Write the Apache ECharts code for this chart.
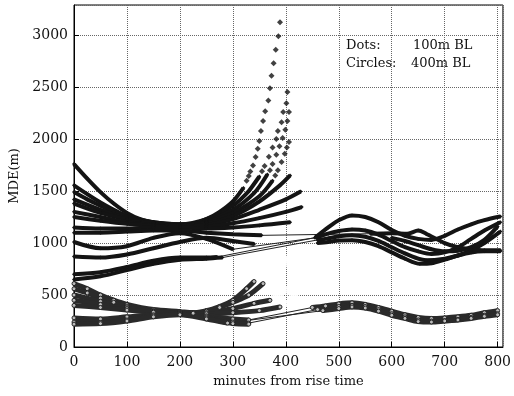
<!DOCTYPE html>
<html>
<head>
<meta charset="utf-8">
<script src="https://cdn.jsdelivr.net/npm/echarts@6/dist/echarts.min.js"></script>
<style>
  html, body { margin: 0; padding: 0; background: #fff; }
  #chart { width: 514px; height: 396px; }
</style>
</head>
<body>
<div id="chart"></div>
<script>
  // 100m BL (dots) - first period
  const dotsA = [[0,1760],[25,1620],[50,1490],[75,1380],[100,1290],[125,1230],[150,1195],[175,1175],[200,1170],[225,1185],[250,1230],[275,1300],[300,1400],[320,1530]]
  const dotsB = [[0,1555],[25,1470],[50,1390],[75,1320],[100,1260],[150,1200],[200,1180],[250,1230],[300,1360],[330,1500],[350,1640]]
  const dotsC = [[0,1490],[25,1420],[50,1360],[75,1300],[100,1250],[150,1195],[200,1175],[250,1210],[300,1320],[340,1480],[365,1660]]
  const dotsD = [[0,1420],[50,1320],[100,1240],[150,1200],[200,1180],[250,1200],[300,1290],[350,1450],[375,1600]]
  const dotsE = [[0,1380],[50,1290],[100,1230],[150,1190],[200,1170],[250,1190],[300,1260],[350,1400],[390,1560],[408,1650]]
  const dotsF = [[0,1300],[50,1250],[100,1200],[150,1175],[200,1165],[250,1175],[300,1230],[350,1320],[400,1420],[428,1495]]
  const dotsG = [[0,1250],[50,1215],[100,1185],[150,1165],[200,1160],[250,1160],[300,1190],[350,1240],[400,1300],[430,1346]]
  const dotsH = [[0,1150],[50,1140],[100,1140],[150,1150],[200,1150],[250,1140],[300,1150],[350,1170],[408,1200]]
  const dotsI = [[0,1100],[50,1100],[100,1110],[150,1120],[200,1120],[250,1100],[300,1085],[354,1074]]
  const dotsJ = [[0,1010],[50,950],[100,970],[150,1050],[200,1095],[250,1040],[300,940]]
  const dotsK = [[0,870],[50,860],[100,890],[150,950],[200,1010],[250,1050],[300,1020],[340,990]]
  const dotsL = [[0,700],[50,720],[100,770],[150,830],[200,860],[250,860],[270,865]]
  const dotsM = [[0,650],[50,680],[100,740],[150,800],[200,840],[250,850],[280,860]]

  // steep ends, read dot by dot
  const tailA = [[326,1600],[330,1645],[333,1689],[338,1747],[343,1827],[347,1907],[350,1981],[353,2077],[357,2173],[361,2269],[367,2372],[370,2490],[373,2609],[377,2730],[381,2860],[386,2990],[389,3125]]
  const tailB = [[355,1690],[360,1740],[368,1830],[375,1920],[382,2000],[385,2077],[392,2163],[395,2260],[401,2346],[403,2452]]
  const tailC = [[370,1700],[375,1760],[382,1850],[388,1930],[394,2010],[399,2090],[403,2173],[406,2260]]
  const tailD = [[380,1650],[385,1700],[392,1780],[398,1860],[402,1920],[406,1971]]

  // 100m BL (dots) - second period
  const dotsR1 = [[455,1050],[480,1150],[500,1220],[525,1265],[550,1250],[575,1200],[600,1125],[625,1070],[650,1040],[675,1030],[700,1070],[725,1130],[750,1180],[775,1220],[805,1255]]
  const dotsR2 = [[458,1055],[480,1090],[500,1115],[525,1130],[550,1120],[575,1080],[600,1020],[625,960],[650,920],[675,895],[700,910],[725,960],[750,1040],[775,1120],[805,1200]]
  const dotsR3 = [[460,1030],[480,1045],[500,1065],[525,1075],[550,1060],[575,1020],[600,960],[625,900],[650,850],[665,835],[700,850],[725,880],[750,930],[775,1000],[805,1110]]
  const dotsR4 = [[460,1000],[480,1010],[500,1025],[525,1028],[550,1010],[575,970],[600,910],[625,850],[653,800],[675,805],[700,840],[725,880],[750,910],[775,920],[805,920]]
  const dotsR5 = [[560,1090],[600,1095],[630,1090],[650,1120],[665,1090],[700,1000],[725,960],[750,940],[775,930],[805,930]]
  const dotsR6 = [[600,1050],[625,1020],[650,980],[675,940],[700,920],[725,925],[750,960],[775,1030],[800,1160]]

  // 400m BL (circles)
  const circA = [[0,610],[25,560],[50,500],[75,450],[100,410],[150,360],[200,340],[225,330],[250,350],[275,390],[300,450],[326,561],[340,630]]
  const circB = [[0,560],[25,520],[50,470],[75,430],[100,395],[150,350],[200,335],[225,325],[250,345],[275,380],[300,430],[330,500],[357,610]]
  const circC = [[0,500],[50,440],[100,385],[150,345],[200,330],[250,330],[300,370],[340,420],[370,449]]
  const circD = [[0,450],[50,410],[100,370],[150,340],[200,325],[250,320],[300,330],[350,350],[389,385]]
  const circE = [[0,400],[50,380],[100,355],[150,335],[200,320],[250,300],[300,270],[330,260]]
  const circF = [[0,280],[50,270],[100,290],[150,310],[200,320],[250,290],[300,240],[330,230]]
  const circG = [[0,240],[50,235],[100,260],[150,300],[200,315],[250,280],[300,225],[330,220]]
  const circH = [[0,220],[50,225],[100,250],[150,290],[200,310],[250,270],[290,230]]
  const circTailA = [[350,670],[357,706],[365,760],[371,800],[376,834],[382,870],[389,913]]
  const circTailB = [[365,640],[372,670],[380,700],[389,737],[395,780],[400,815],[404,850]]
  const circTailC = [[380,480],[390,510],[400,545],[408,577],[415,610],[421,640],[426,673]]
  const circTailD = [[400,420],[410,470],[418,510],[425,545],[430,575],[433,593]]
  const circR1 = [[450,380],[475,395],[500,415],[525,425],[550,410],[575,380],[600,345],[625,310],[650,285],[675,275],[700,280],[725,290],[750,305],[775,330],[800,350]]
  const circR2 = [[460,360],[500,390],[525,400],[550,390],[575,360],[600,320],[625,290],[650,260],[675,250],[700,255],[725,265],[750,285],[775,305],[800,320]]
  const circR3 = [[470,350],[500,370],[525,385],[550,375],[575,345],[600,305],[625,275],[650,245],[675,240],[700,250],[725,260],[750,275],[775,295],[800,310]]

  // thin joining lines between periods
  const joins = [
    [[300,940],[455,1050]],
    [[270,865],[458,1055]],
    [[280,860],[460,1030]],
    [[354,1074],[560,1090]],
    [[330,260],[450,380]],
    [[330,230],[460,360]],
    [[290,230],[470,350]]
  ]

  const xTicks = [0, 100, 200, 300, 400, 500, 600, 700, 800]
  const yTicks = [0, 500, 1000, 1500, 2000, 2500, 3000]

  const serif = '"DejaVu Serif", serif'

  function dotLine(data) {
    return {
      type: 'line', data: data, smooth: 0.3,
      symbol: 'diamond', symbolSize: 4, showSymbol: true,
      lineStyle: { width: 4, color: '#141414' },
      itemStyle: { color: '#141414' }
    }
  }
  function dotTail(data) {
    return {
      type: 'scatter', data: data, symbol: 'diamond', symbolSize: 6,
      itemStyle: { color: '#111' }
    }
  }
  function circLine(data) {
    return {
      type: 'line', data: data, smooth: 0.3,
      symbol: 'circle', symbolSize: 4, showSymbol: true,
      lineStyle: { width: 5, color: '#2a2a2a' },
      itemStyle: { color: '#bbb', borderColor: '#222', borderWidth: 1 }
    }
  }
  function circTail(data) {
    return {
      type: 'scatter', data: data, symbol: 'emptyCircle', symbolSize: 5,
      itemStyle: { color: '#fff', borderColor: '#222', borderWidth: 1 }
    }
  }

  const series = []
  joins.forEach(j => series.push({
    type: 'line', data: j, showSymbol: false, lineStyle: { width: 1, color: '#222' }
  }))
  ;[circA, circB, circC, circD, circE, circF, circG, circH, circR1, circR2, circR3].forEach(d => series.push(circLine(d)))
  ;[circTailA, circTailB, circTailC, circTailD].forEach(d => series.push(circTail(d)))
  ;[dotsA, dotsB, dotsC, dotsD, dotsE, dotsF, dotsG, dotsH, dotsI, dotsJ, dotsK, dotsL, dotsM,
    dotsR1, dotsR2, dotsR3, dotsR4, dotsR5, dotsR6].forEach(d => series.push(dotLine(d)))
  ;[tailA, tailB, tailC, tailD].forEach(d => series.push(dotTail(d)))

  const chart = echarts.init(document.getElementById('chart'))
  chart.setOption({
    animation: false,
    backgroundColor: '#fff',
    grid: {
      left: 74, right: 11, top: 5, bottom: 49,
      show: true, borderColor: '#000', borderWidth: 1
    },
    xAxis: {
      type: 'value', min: 0, max: 810, interval: 100,
      name: 'minutes from rise time', nameLocation: 'middle', nameGap: 28,
      nameTextStyle: { fontFamily: serif, fontSize: 13, color: '#111' },
      axisLine: { lineStyle: { color: '#000' } },
      axisTick: { inside: true, length: 5, lineStyle: { color: '#000' } },
      axisLabel: {
        fontFamily: serif, fontSize: 14, color: '#111', margin: 8, showMaxLabel: false,
        formatter: v => xTicks.includes(v) ? String(v) : ''
      },
      splitLine: { show: true, lineStyle: { type: 'dotted', color: '#666', width: 1 } }
    },
    yAxis: {
      type: 'value', min: 0, max: 3290, interval: 500,
      name: 'MDE(m)', nameLocation: 'middle', nameGap: 47,
      nameTextStyle: { fontFamily: serif, fontSize: 13, color: '#111' },
      axisLine: { show: true, lineStyle: { color: '#000' } },
      axisTick: { show: true, inside: true, length: 5, lineStyle: { color: '#000' } },
      axisLabel: {
        fontFamily: serif, fontSize: 14, color: '#111', margin: 6, showMaxLabel: false,
        formatter: v => yTicks.includes(v) ? String(v) : ''
      },
      splitLine: { show: true, lineStyle: { type: 'dotted', color: '#666', width: 1 } }
    },
    graphic: [
      { type: 'text', left: 346, top: 39, style: { text: 'Dots:', font: '13px ' + serif, fill: '#111' } },
      { type: 'text', left: 413, top: 39, style: { text: '100m BL', font: '13px ' + serif, fill: '#111' } },
      { type: 'text', left: 346, top: 57, style: { text: 'Circles:', font: '13px ' + serif, fill: '#111' } },
      { type: 'text', left: 411, top: 57, style: { text: '400m BL', font: '13px ' + serif, fill: '#111' } }
    ],
    series: series
  })
</script>
</body>
</html>
